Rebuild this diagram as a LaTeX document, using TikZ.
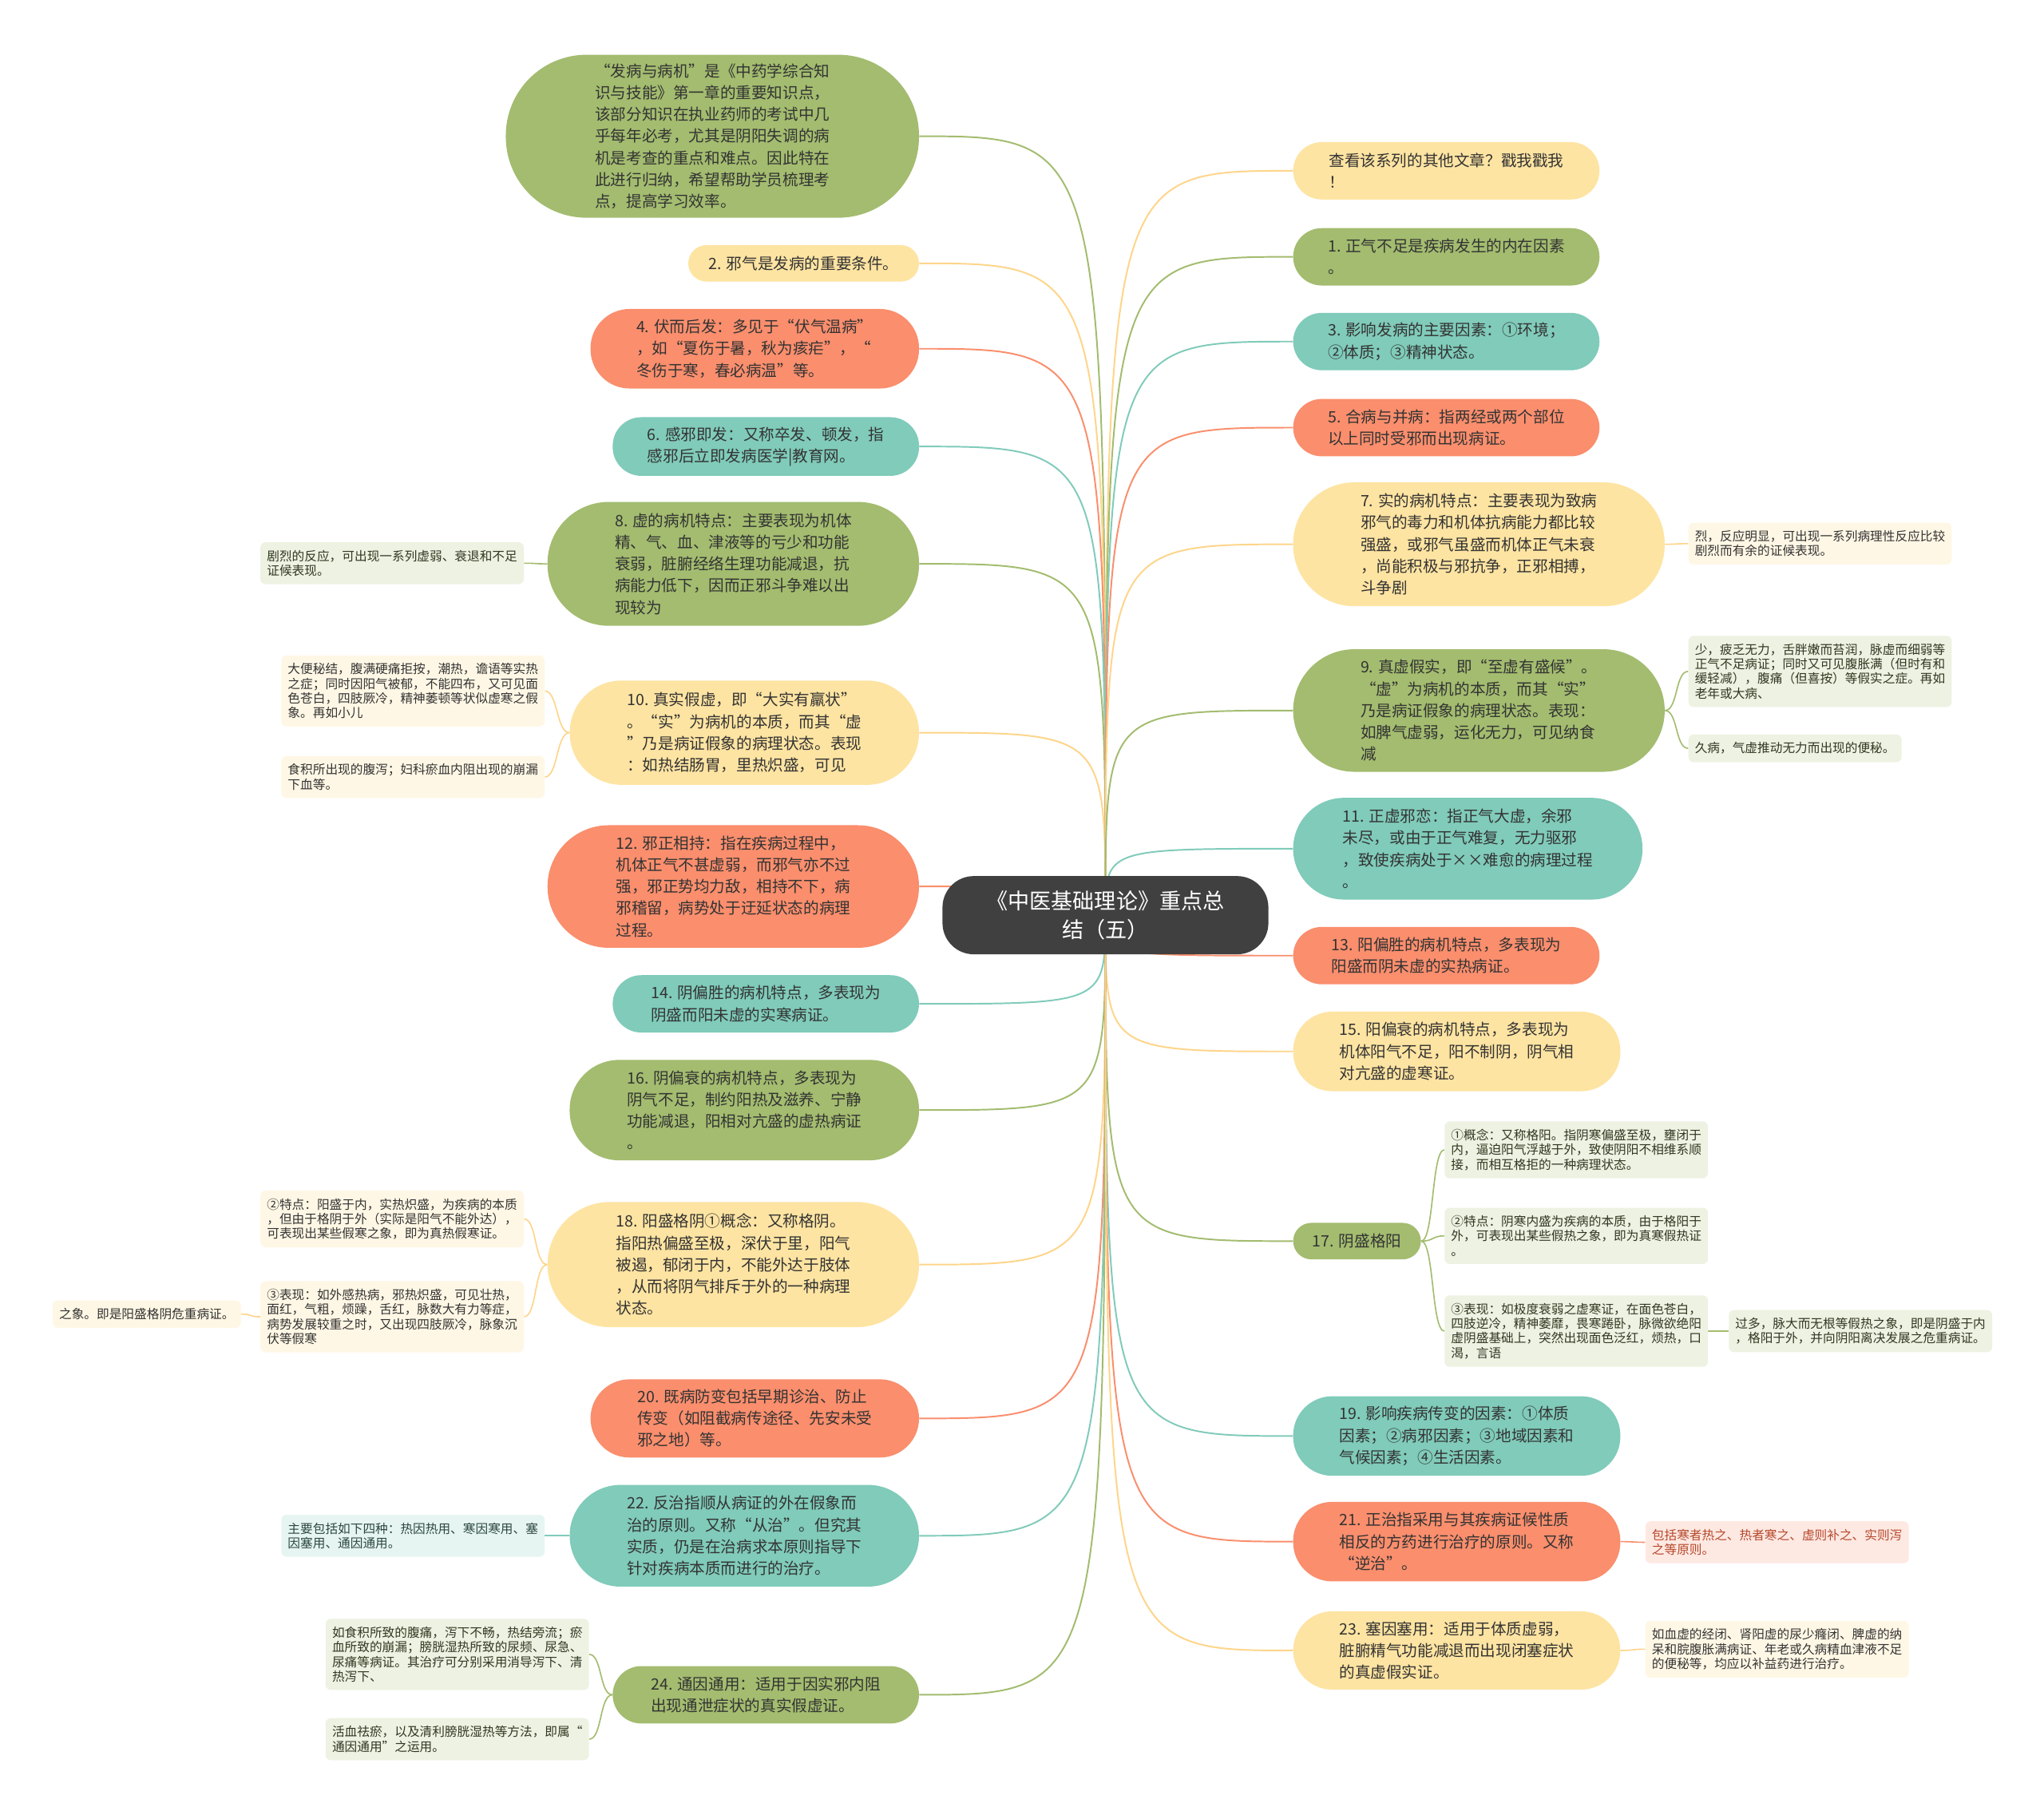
\documentclass[tikz,border=0pt]{standalone}
\usepackage{fontspec}
\setmainfont{Noto Sans CJK SC}
\usetikzlibrary{backgrounds}
\definecolor{mapgreen}{HTML}{A3BC6F}
\definecolor{mapyellow}{HTML}{FEE4A2}
\definecolor{maporange}{HTML}{FA8E6D}
\definecolor{mapteal}{HTML}{80CBBA}
\definecolor{maphub}{HTML}{404040}
\definecolor{mapfg}{HTML}{333333}
\definecolor{mapbrick}{HTML}{B5482A}

\begin{document}
\begin{tikzpicture}[x=1pt,y=-1pt]
  \colorlet{greenleaf}{mapgreen!20}
  \colorlet{yellowleaf}{mapyellow!28}
  \colorlet{tealleaf}{mapteal!20}
  \colorlet{pinkleaf}{maporange!20}
  \colorlet{yellowline}{mapyellow!85!orange}
  \tikzstyle{hubbox}=[fill=maphub, text=white, rounded corners=24pt, minimum width=250pt, minimum height=60pt, align=center, font=\fontsize{16.6pt}{22pt}\selectfont]
  \tikzstyle{topic}=[text=mapfg, align=left, inner sep=0pt, font=\fontsize{12pt}{16.7pt}\selectfont]
  \tikzstyle{leaf}=[text=mapfg, align=left, rounded corners=4pt, inner xsep=5pt, inner ysep=6pt, font=\fontsize{9.6pt}{11.2pt}\selectfont]
  \tikzstyle{greenbox}=[leaf, fill=greenleaf, text=mapgreen!30!black]
  \tikzstyle{yellowbox}=[leaf, fill=yellowleaf]
  \tikzstyle{tealbox}=[leaf, fill=tealleaf, text=mapteal!35!black]
  \tikzstyle{pinkbox}=[leaf, fill=pinkleaf, text=mapbrick]
  \tikzstyle{branch}=[line width=1.2pt]
  \tikzstyle{twig}=[line width=1pt]

  \path[use as bounding box] (0,0) rectangle (1568,1392);

  \node[hubbox] (hub) at (848,702) {《中医基础理论》重点总\\结（五）};

  % left side
  \node[topic, fill=mapgreen, minimum width=317pt, minimum height=125pt, rounded corners=62pt] (intro) at (546.5,104.5) {“发病与病机”是《中药学综合知\\识与技能》第一章的重要知识点，\\该部分知识在执业药师的考试中几\\乎每年必考，尤其是阴阳失调的病\\机是考查的重点和难点。因此特在\\此进行归纳，希望帮助学员梳理考\\点，提高学习效率。};
  \node[topic, fill=mapyellow, minimum width=177pt, minimum height=28pt, rounded corners=14pt] (evil) at (616.5,202) {2. 邪气是发病的重要条件。};
  \node[topic, fill=maporange, minimum width=252pt, minimum height=61pt, rounded corners=30pt] (latent) at (579,267.5) {4. 伏而后发：多见于“伏气温病”\\，如“夏伤于暑，秋为痎疟”，“\\冬伤于寒，春必病温”等。};
  \node[topic, fill=mapteal, minimum width=235pt, minimum height=45pt, rounded corners=22pt] (instant) at (587.5,342.5) {6. 感邪即发：又称卒发、顿发，指\\感邪后立即发病医学|教育网。};
  \node[topic, fill=mapgreen, minimum width=285pt, minimum height=95pt, rounded corners=47pt] (deficiency) at (562.5,432.5) {8. 虚的病机特点：主要表现为机体\\精、气、血、津液等的亏少和功能\\衰弱，脏腑经络生理功能减退，抗\\病能力低下，因而正邪斗争难以出\\现较为};
  \node[topic, fill=mapyellow, minimum width=268pt, minimum height=80pt, rounded corners=40pt] (truexcess) at (571,562) {10. 真实假虚，即“大实有羸状”\\。“实”为病机的本质，而其“虚\\”乃是病证假象的病理状态。表现\\：如热结肠胃，里热炽盛，可见};
  \node[topic, fill=maporange, minimum width=285pt, minimum height=94pt, rounded corners=47pt] (standoff) at (562.5,680) {12. 邪正相持：指在疾病过程中，\\机体正气不甚虚弱，而邪气亦不过\\强，邪正势均力敌，相持不下，病\\邪稽留，病势处于迂延状态的病理\\过程。};
  \node[topic, fill=mapteal, minimum width=235pt, minimum height=44pt, rounded corners=22pt] (yinexcess) at (587.5,770) {14. 阴偏胜的病机特点，多表现为\\阴盛而阳未虚的实寒病证。};
  \node[topic, fill=mapgreen, minimum width=268pt, minimum height=77pt, rounded corners=38pt] (yindefic) at (571,851.5) {16. 阴偏衰的病机特点，多表现为\\阴气不足，制约阳热及滋养、宁静\\功能减退，阳相对亢盛的虚热病证\\。};
  \node[topic, fill=mapyellow, minimum width=285pt, minimum height=96pt, rounded corners=48pt] (yangrepel) at (562.5,970) {18. 阳盛格阴①概念：又称格阴。\\指阳热偏盛至极，深伏于里，阳气\\被遏，郁闭于内，不能外达于肢体\\，从而将阴气排斥于外的一种病理\\状态。};
  \node[topic, fill=maporange, minimum width=252pt, minimum height=60pt, rounded corners=30pt] (prevent) at (579,1088) {20. 既病防变包括早期诊治、防止\\传变（如阻截病传途径、先安未受\\邪之地）等。};
  \node[topic, fill=mapteal, minimum width=268pt, minimum height=78pt, rounded corners=39pt] (contrary) at (571,1178) {22. 反治指顺从病证的外在假象而\\治的原则。又称“从治”。但究其\\实质，仍是在治病求本原则指导下\\针对疾病本质而进行的治疗。};
  \node[topic, fill=mapgreen, minimum width=235pt, minimum height=44pt, rounded corners=22pt] (flowflow) at (587.5,1300) {24. 通因通用：适用于因实邪内阻\\出现通泄症状的真实假虚证。};

  % right side
  \node[topic, fill=mapyellow, minimum width=235pt, minimum height=44pt, rounded corners=22pt] (series) at (1109.5,131) {查看该系列的其他文章？戳我戳我\\！};
  \node[topic, fill=mapgreen, minimum width=235pt, minimum height=44pt, rounded corners=22pt] (zhengqi) at (1109.5,197) {1. 正气不足是疾病发生的内在因素\\。};
  \node[topic, fill=mapteal, minimum width=235pt, minimum height=44pt, rounded corners=22pt] (factors) at (1109.5,262) {3. 影响发病的主要因素：①环境；\\②体质；③精神状态。};
  \node[topic, fill=maporange, minimum width=235pt, minimum height=44pt, rounded corners=22pt] (combined) at (1109.5,328) {5. 合病与并病：指两经或两个部位\\以上同时受邪而出现病证。};
  \node[topic, fill=mapyellow, minimum width=285pt, minimum height=95pt, rounded corners=47pt] (excess) at (1134.5,417.5) {7. 实的病机特点：主要表现为致病\\邪气的毒力和机体抗病能力都比较\\强盛，或邪气虽盛而机体正气未衰\\，尚能积极与邪抗争，正邪相搏，\\斗争剧};
  \node[topic, fill=mapgreen, minimum width=285pt, minimum height=94pt, rounded corners=47pt] (truedefic) at (1134.5,545) {9. 真虚假实，即“至虚有盛候”。\\“虚”为病机的本质，而其“实”\\乃是病证假象的病理状态。表现：\\如脾气虚弱，运化无力，可见纳食\\减};
  \node[topic, fill=mapteal, minimum width=268pt, minimum height=78pt, rounded corners=39pt] (lingering) at (1126,651) {11. 正虚邪恋：指正气大虚，余邪\\未尽，或由于正气难复，无力驱邪\\，致使疾病处于××难愈的病理过程\\。};
  \node[topic, fill=maporange, minimum width=235pt, minimum height=44pt, rounded corners=22pt] (yangexcess) at (1109.5,733) {13. 阳偏胜的病机特点，多表现为\\阳盛而阴未虚的实热病证。};
  \node[topic, fill=mapyellow, minimum width=251pt, minimum height=61pt, rounded corners=30pt] (yangdefic) at (1117.5,806.5) {15. 阳偏衰的病机特点，多表现为\\机体阳气不足，阳不制阴，阴气相\\对亢盛的虚寒证。};
  \node[topic, fill=mapgreen, minimum width=98pt, minimum height=28pt, rounded corners=14pt] (yinrepel) at (1041,952) {17. 阴盛格阳};
  \node[topic, fill=mapteal, minimum width=251pt, minimum height=61pt, rounded corners=30pt] (transmit) at (1117.5,1101.5) {19. 影响疾病传变的因素：①体质\\因素；②病邪因素；③地域因素和\\气候因素；④生活因素。};
  \node[topic, fill=maporange, minimum width=251pt, minimum height=61pt, rounded corners=30pt] (routine) at (1117.5,1182.5) {21. 正治指采用与其疾病证候性质\\相反的方药进行治疗的原则。又称\\“逆治”。};
  \node[topic, fill=mapyellow, minimum width=251pt, minimum height=60pt, rounded corners=30pt] (blockblock) at (1117.5,1266) {23. 塞因塞用：适用于体质虚弱，\\脏腑精气功能减退而出现闭塞症状\\的真虚假实证。};

  % leaves on the left
  \node[greenbox, anchor=east] (deficiencyleaf) at (402,432) {剧烈的反应，可出现一系列虚弱、衰退和不足\\证候表现。};
  \node[yellowbox, anchor=east] (truexcessA) at (418,530) {大便秘结，腹满硬痛拒按，潮热，谵语等实热\\之症；同时因阳气被郁，不能四布，又可见面\\色苍白，四肢厥冷，精神萎顿等状似虚寒之假\\象。再如小儿};
  \node[yellowbox, anchor=east] (truexcessB) at (418,596) {食积所出现的腹泻；妇科瘀血内阻出现的崩漏\\下血等。};
  \node[yellowbox, anchor=east] (yangrepelA) at (402,935) {②特点：阳盛于内，实热炽盛，为疾病的本质\\，但由于格阴于外（实际是阳气不能外达），\\可表现出某些假寒之象，即为真热假寒证。};
  \node[yellowbox, anchor=east] (yangrepelB) at (402,1010) {③表现：如外感热病，邪热炽盛，可见壮热，\\面红，气粗，烦躁，舌红，脉数大有力等症，\\病势发展较重之时，又出现四肢厥冷，脉象沉\\伏等假寒};
  \node[yellowbox, anchor=east] (yangrepelC) at (185,1008) {之象。即是阳盛格阴危重病证。};
  \node[tealbox, anchor=east] (contraryleaf) at (418,1178) {主要包括如下四种：热因热用、寒因寒用、塞\\因塞用、通因通用。};
  \node[greenbox, anchor=east] (flowA) at (452,1269) {如食积所致的腹痛，泻下不畅，热结旁流；瘀\\血所致的崩漏；膀胱湿热所致的尿频、尿急、\\尿痛等病证。其治疗可分别采用消导泻下、清\\热泻下、};
  \node[greenbox, anchor=east] (flowB) at (452,1334) {活血祛瘀，以及清利膀胱湿热等方法，即属“\\通因通用”之运用。};

  % leaves on the right
  \node[yellowbox, anchor=west] (excessleaf) at (1295,417) {烈，反应明显，可出现一系列病理性反应比较\\剧烈而有余的证候表现。};
  \node[greenbox, anchor=west] (truedeficA) at (1295,515) {少，疲乏无力，舌胖嫩而苔润，脉虚而细弱等\\正气不足病证；同时又可见腹胀满（但时有和\\缓轻减），腹痛（但喜按）等假实之症。再如\\老年或大病、};
  \node[greenbox, anchor=west] (truedeficB) at (1295,574) {久病，气虚推动无力而出现的便秘。};
  \node[greenbox, anchor=west] (yinrepelA) at (1108,882) {①概念：又称格阳。指阴寒偏盛至极，壅闭于\\内，逼迫阳气浮越于外，致使阴阳不相维系顺\\接，而相互格拒的一种病理状态。};
  \node[greenbox, anchor=west] (yinrepelB) at (1108,948) {②特点：阴寒内盛为疾病的本质，由于格阳于\\外，可表现出某些假热之象，即为真寒假热证\\。};
  \node[greenbox, anchor=west] (yinrepelC) at (1108,1021) {③表现：如极度衰弱之虚寒证，在面色苍白，\\四肢逆冷，精神萎靡，畏寒踡卧，脉微欲绝阳\\虚阴盛基础上，突然出现面色泛红，烦热，口\\渴，言语};
  \node[greenbox, anchor=west] (yinrepelD) at (1326,1021) {过多，脉大而无根等假热之象，即是阴盛于内\\，格阳于外，并向阴阳离决发展之危重病证。};
  \node[pinkbox, anchor=west] (routineleaf) at (1262,1183) {包括寒者热之、热者寒之、虚则补之、实则泻\\之等原则。};
  \node[yellowbox, anchor=west] (blockleaf) at (1262,1265) {如血虚的经闭、肾阳虚的尿少癃闭、脾虚的纳\\呆和脘腹胀满病证、年老或久病精血津液不足\\的便秘等，均应以补益药进行治疗。};

  \begin{scope}[on background layer]
    \fill[white] (0,0) rectangle (1568,1392);
    \foreach \n/\c in {intro/mapgreen, evil/yellowline, latent/maporange, instant/mapteal,
        deficiency/mapgreen, truexcess/yellowline, standoff/maporange, yinexcess/mapteal,
        yindefic/mapgreen, yangrepel/yellowline, prevent/maporange, contrary/mapteal, flowflow/mapgreen} {
      \draw[branch, draw=\c] (hub.center) .. controls (hub.center |- \n.east) .. (\n.east);
    }
    \foreach \n/\c in {series/yellowline, zhengqi/mapgreen, factors/mapteal, combined/maporange,
        excess/yellowline, truedefic/mapgreen, lingering/mapteal, yangexcess/maporange,
        yangdefic/yellowline, yinrepel/mapgreen, transmit/mapteal, routine/maporange, blockblock/yellowline} {
      \draw[branch, draw=\c] (hub.center) .. controls (hub.center |- \n.west) .. (\n.west);
    }
    % twigs to the leaves
    \foreach \a/\b/\c in {deficiency/deficiencyleaf/mapgreen, truexcess/truexcessA/yellowline,
        truexcess/truexcessB/yellowline, yangrepel/yangrepelA/yellowline, yangrepel/yangrepelB/yellowline,
        yangrepelB/yangrepelC/yellowline, contrary/contraryleaf/mapteal, flowflow/flowA/mapgreen, flowflow/flowB/mapgreen} {
      \draw[twig, draw=\c] (\a.west) .. controls +(-10,0) and +(10,0) .. (\b.east);
    }
    \foreach \a/\b/\c in {excess/excessleaf/yellowline, truedefic/truedeficA/mapgreen,
        truedefic/truedeficB/mapgreen, yinrepel/yinrepelA/mapgreen, yinrepel/yinrepelB/mapgreen,
        yinrepel/yinrepelC/mapgreen, yinrepelC/yinrepelD/mapgreen, routine/routineleaf/maporange, blockblock/blockleaf/yellowline} {
      \draw[twig, draw=\c] (\a.east) .. controls +(10,0) and +(-10,0) .. (\b.west);
    }
  \end{scope}
\end{tikzpicture}
\end{document}
